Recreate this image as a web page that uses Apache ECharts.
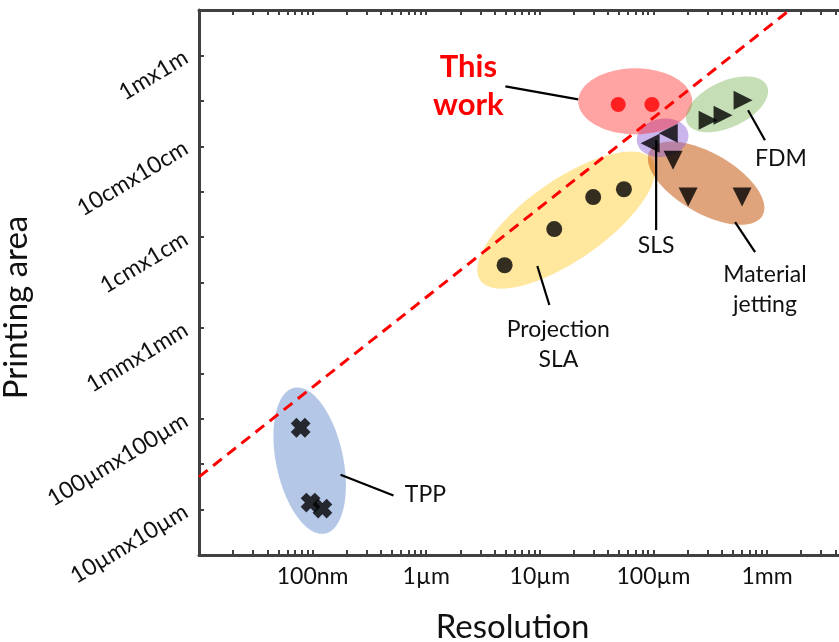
<!DOCTYPE html>
<html><head><meta charset="utf-8">
<script src="https://cdn.jsdelivr.net/npm/echarts@6/dist/echarts.min.js"></script>
<style>html,body{margin:0;padding:0;background:#fff;overflow:hidden}#c{width:839px;height:642px}</style>
</head><body><div id="c"></div>
<script>
// Resolution in µm, printing area in µm²
const xTickValues = [0.1, 1, 10, 100, 1000];
const xTickLabels = ['100nm', '1µm', '10µm', '100µm', '1mm'];
const yTickValues = [1e2, 1e4, 1e6, 1e8, 1e10, 1e12];
const yTickLabels = ['10µmx10µm', '100µmx100µm', '1mmx1mm', '1cmx1cm', '10cmx10cm', '1mx1m'];

const thisWork = [[49, 8.3e10], [97, 8.3e10]];
const projectionSLA = [[4.9, 2.4e7], [13.4, 1.5e8], [29.5, 7.6e8], [55, 1.13e9]];
const tpp = [[0.0785, 6340], [0.096, 143], [0.122, 105]];
const sls = [[93.5, 1.16e10], [135, 1.93e10]];
const materialJetting = [[149, 4.9e9], [202, 7.6e8], [603, 7.6e8]];
const fdm = [[303, 3.72e10], [410, 4.8e10], [615, 1.03e11]];
const pixelLimit = [[0.01, 525], [1585, 1e13]];

// annotation groups (centres in log10 units)
const groupCentres = [[-1.026, 3.077], [1.233, 8.374], [2.464, 9.187], [2.081, 10.187], [1.840, 10.989], [2.648, 10.923]];
const groupShapes = [
  {rx: 33.5, ry: 74.5, rot: -12, fill: 'rgba(68,114,196,0.40)'},
  {rx: 105, ry: 40, rot: -35, fill: 'rgba(255,192,0,0.38)'},
  {rx: 65, ry: 30, rot: 30, fill: 'rgba(197,90,17,0.55)'},
  {rx: 26, ry: 19, rot: -10, fill: 'rgba(140,90,215,0.45)'},
  {rx: 57, ry: 33, rot: 0, fill: 'rgba(255,0,0,0.36)'},
  {rx: 44, ry: 23, rot: -25, fill: 'rgba(112,173,71,0.40)'}
];
const calloutLines = [
  [0.697, 11.319, 1.338, 11.033],
  [2.024, 10.132, 2.024, 8.154],
  [2.833, 10.791, 2.982, 10.132],
  [2.719, 8.330, 2.895, 7.670],
  [0.978, 7.363, 1.084, 6.505],
  [-0.754, 2.769, -0.288, 2.308]
];
const calloutTexts = [
  [0.371, 11.319, 'This\nwork'],
  [2.024, 7.802, 'SLS'],
  [3.123, 9.736, 'FDM'],
  [2.982, 6.835, 'Material\njetting'],
  [1.163, 5.626, 'Projection\nSLA'],
  [-0.007, 2.330, 'TPP']
];

const L = Math.log10;
const toLog = arr => arr.map(p => [L(p[0]), L(p[1])]);
const FONT = 'Lato, "Open Sans", sans-serif';
const xMin = -2, xMax = 3.66, yMin = 1, yMax = 13;
const xMinor = [];
for (let n = -2; n <= 3; n++) for (let k = 1; k <= 9; k++) { const v = L(k * Math.pow(10, n)); if (v < xMax - 0.02) xMinor.push(v); }
const yMinor = [];
for (let n = 1; n <= 13; n++) yMinor.push(n);
const xMajor = xTickValues.map(L), yMajor = yTickValues.map(L);
const fmt = (vals, labs) => v => { for (let i = 0; i < vals.length; i++) if (Math.abs(vals[i] - v) < 1e-6) return labs[i]; return ''; };
const frame = {color: '#404040', width: 3};
const tickStyle = {color: '#404040', width: 2};

function xAxisDef(pos, labels) {
  return {
    type: 'value', position: pos, min: xMin, max: xMax,
    axisLine: {show: true, onZero: false, lineStyle: frame},
    axisTick: {show: true, inside: true, length: 5, customValues: xMinor, lineStyle: tickStyle},
    axisLabel: labels ? {show: true, customValues: xMajor, formatter: fmt(xMajor, xTickLabels), fontSize: 23, fontFamily: FONT, color: '#111', margin: 10} : {show: false},
    splitLine: {show: false},
    name: labels ? 'Resolution' : '', nameLocation: 'middle', nameGap: 56,
    nameTextStyle: {fontSize: 33, fontFamily: FONT, color: '#111', padding: [0, 16, 0, 0]}
  };
}
function yAxisDef(pos, labels) {
  return {
    type: 'value', position: pos, min: yMin, max: yMax, show: labels,
    axisLine: {show: labels, onZero: false, lineStyle: frame},
    axisTick: {show: true, inside: true, length: 5, customValues: yMinor, lineStyle: tickStyle},
    axisLabel: labels ? {show: true, customValues: yMajor, formatter: fmt(yMajor, yTickLabels), rotate: 31, fontSize: 23, fontFamily: FONT, color: '#111', margin: 13} : {show: false},
    splitLine: {show: false},
    name: labels ? 'Printing area' : '', nameLocation: 'middle', nameGap: 150, nameRotate: 90,
    nameTextStyle: {fontSize: 33, fontFamily: FONT, color: '#111', padding: [0, 50, 0, 0]}
  };
}

const crossPath = 'path://M3,0L7,0L7,3L10,3L10,7L7,7L7,10L3,10L3,7L0,7L0,3L3,3Z';

const chart = echarts.init(document.getElementById('c'), null, {renderer: 'canvas'});
chart.setOption({
  animation: false,
  backgroundColor: '#fff',
  grid: {left: 199, top: 10, width: 643, height: 545, containLabel: false, outerBoundsMode: 'none'},
  xAxis: [xAxisDef('bottom', true), xAxisDef('top', false)],
  yAxis: [yAxisDef('left', true), yAxisDef('right', false)],
  series: [
    {
      type: 'custom', z: 1, silent: true, clip: false,
      data: groupCentres,
      renderItem: function (params, api) {
        const s = groupShapes[params.dataIndex];
        const c = api.coord([api.value(0), api.value(1)]);
        const th = s.rot * Math.PI / 180, pts = [];
        for (let i = 0; i < 90; i++) {
          const t = i / 90 * 2 * Math.PI, x = s.rx * Math.cos(t), y = s.ry * Math.sin(t);
          pts.push([c[0] + x * Math.cos(th) - y * Math.sin(th), c[1] + x * Math.sin(th) + y * Math.cos(th)]);
        }
        return {type: 'polygon', shape: {points: pts}, style: {fill: s.fill}};
      }
    },
    {
      type: 'line', z: 2, data: toLog(pixelLimit), symbol: 'none', silent: true,
      lineStyle: {color: '#ff0000', width: 3, type: [11, 7]}
    },
    {
      type: 'custom', z: 3, silent: true, clip: false,
      data: calloutLines,
      renderItem: function (params, api) {
        const a = api.coord([api.value(0), api.value(1)]), b = api.coord([api.value(2), api.value(3)]);
        return {type: 'line', shape: {x1: a[0], y1: a[1], x2: b[0], y2: b[1]}, style: {stroke: '#000', lineWidth: 2.2}};
      }
    },
    {
      type: 'custom', z: 3, silent: true, clip: false,
      data: calloutTexts,
      renderItem: function (params, api) {
        const d = calloutTexts[params.dataIndex];
        const p = api.coord([d[0], d[1]]);
        const red = params.dataIndex === 0;
        return {type: 'text', x: p[0], y: p[1], style: {
          text: d[2], fill: red ? '#ff0000' : '#111',
          fontSize: red ? 31 : 23, fontWeight: red ? 'bold' : 'normal', fontFamily: FONT,
          align: 'center', verticalAlign: 'middle', lineHeight: red ? 38 : 30
        }};
      }
    },
    {type: 'scatter', z: 4, data: toLog(thisWork), symbol: 'circle', symbolSize: 15, itemStyle: {color: '#ff0000'}},
    {type: 'scatter', z: 4, data: toLog(projectionSLA), symbol: 'circle', symbolSize: 16, itemStyle: {color: '#000'}},
    {type: 'scatter', z: 4, data: toLog(tpp), symbol: crossPath, symbolRotate: 45, symbolSize: 20, itemStyle: {color: '#000'}},
    {type: 'scatter', z: 4, data: toLog(sls), symbol: 'triangle', symbolRotate: 90, symbolSize: 19, itemStyle: {color: '#000'}},
    {type: 'scatter', z: 4, data: toLog(materialJetting), symbol: 'triangle', symbolRotate: 180, symbolSize: 19, itemStyle: {color: '#000'}},
    {type: 'scatter', z: 4, data: toLog(fdm), symbol: 'triangle', symbolRotate: -90, symbolSize: 19, itemStyle: {color: '#000'}}
  ]
});
</script></body></html>
